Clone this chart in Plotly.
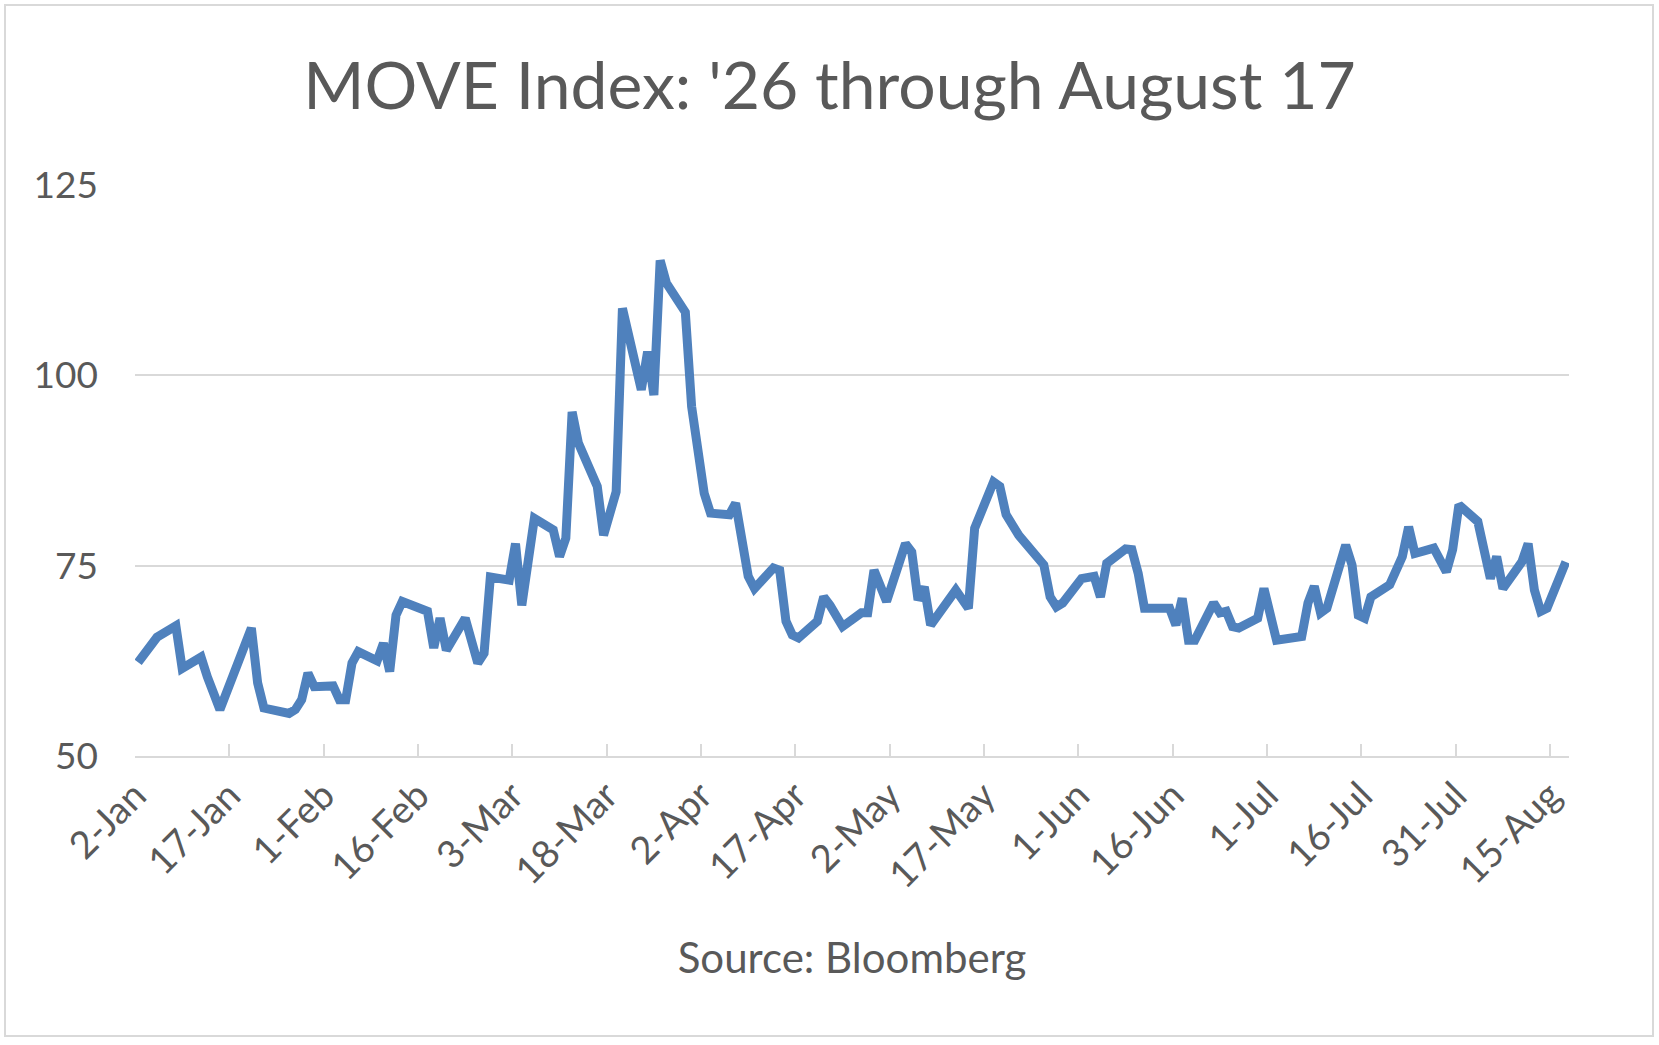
import pandas as pd
import plotly.graph_objects as go

# MOVE index, daily closes (2026)
dates = [
    "2026-01-02", "2026-01-05", "2026-01-06", "2026-01-08", "2026-01-09",
    "2026-01-12", "2026-01-13", "2026-01-15", "2026-01-20", "2026-01-21",
    "2026-01-22", "2026-01-26", "2026-01-27", "2026-01-28", "2026-01-29",
    "2026-01-30", "2026-02-02", "2026-02-03", "2026-02-04", "2026-02-05",
    "2026-02-06", "2026-02-09", "2026-02-10", "2026-02-11", "2026-02-12",
    "2026-02-13", "2026-02-17", "2026-02-18", "2026-02-19", "2026-02-20",
    "2026-02-23", "2026-02-25", "2026-02-26", "2026-02-27", "2026-03-02",
    "2026-03-03", "2026-03-04", "2026-03-06", "2026-03-09", "2026-03-10",
    "2026-03-11", "2026-03-12", "2026-03-13", "2026-03-16", "2026-03-17",
    "2026-03-18", "2026-03-19", "2026-03-20", "2026-03-23", "2026-03-24",
    "2026-03-25", "2026-03-26", "2026-03-27", "2026-03-30", "2026-03-31",
    "2026-04-02", "2026-04-03", "2026-04-06", "2026-04-07", "2026-04-09",
    "2026-04-10", "2026-04-13", "2026-04-14", "2026-04-15", "2026-04-16",
    "2026-04-17", "2026-04-20", "2026-04-21", "2026-04-22", "2026-04-24",
    "2026-04-27", "2026-04-28", "2026-04-29", "2026-05-01", "2026-05-04",
    "2026-05-05", "2026-05-06", "2026-05-07", "2026-05-08", "2026-05-12",
    "2026-05-14", "2026-05-15", "2026-05-18", "2026-05-19", "2026-05-20",
    "2026-05-22", "2026-05-26", "2026-05-27", "2026-05-28", "2026-05-29",
    "2026-06-01", "2026-06-03", "2026-06-04", "2026-06-05", "2026-06-08",
    "2026-06-09", "2026-06-10", "2026-06-11", "2026-06-15", "2026-06-16",
    "2026-06-17", "2026-06-18", "2026-06-19", "2026-06-22", "2026-06-23",
    "2026-06-24", "2026-06-25", "2026-06-26", "2026-06-29", "2026-06-30",
    "2026-07-02", "2026-07-06", "2026-07-07", "2026-07-08", "2026-07-09",
    "2026-07-10", "2026-07-13", "2026-07-14", "2026-07-15", "2026-07-16",
    "2026-07-17", "2026-07-20", "2026-07-22", "2026-07-23", "2026-07-24",
    "2026-07-27", "2026-07-29", "2026-07-30", "2026-07-31", "2026-08-03",
    "2026-08-04", "2026-08-05", "2026-08-06", "2026-08-07", "2026-08-10",
    "2026-08-11", "2026-08-12", "2026-08-13", "2026-08-14", "2026-08-17",
]
move = [
    62.3, 65.6, 66.1, 67.1, 61.5,
    63.0, 60.4, 56.1, 66.8, 59.6,
    56.3, 55.6, 56.1, 57.4, 60.9,
    59.1, 59.2, 57.4, 57.4, 62.2,
    63.7, 62.5, 64.8, 61.1, 68.5,
    70.3, 69.0, 64.2, 68.1, 63.9,
    68.1, 62.2, 63.5, 73.5, 73.1,
    77.9, 69.8, 81.2, 79.7, 76.2,
    78.6, 95.2, 91.1, 85.4, 79.0,
    81.9, 84.7, 108.8, 98.1, 103.1,
    97.4, 115.1, 112.1, 108.3, 95.9,
    84.5, 81.9, 81.7, 83.2, 73.6,
    72.0, 74.7, 74.4, 67.7, 65.9,
    65.5, 67.7, 70.9, 69.8, 67.0,
    68.8, 68.8, 74.4, 70.3, 77.9,
    76.8, 70.5, 72.2, 67.2, 71.8,
    69.4, 79.9, 86.0, 85.4, 81.7,
    79.0, 75.1, 70.9, 69.6, 70.1,
    73.3, 73.6, 70.9, 75.3, 77.2,
    77.1, 74.0, 69.4, 69.4, 67.2,
    70.7, 65.2, 65.2, 70.1, 68.8,
    69.0, 67.0, 66.8, 68.1, 72.0,
    65.2, 65.7, 70.1, 72.3, 68.8,
    69.4, 77.7, 75.1, 68.5, 68.1,
    70.9, 72.5, 76.2, 80.1, 76.6,
    77.3, 74.2, 77.1, 83.0, 80.8,
    77.5, 73.3, 76.2, 72.0, 75.5,
    77.9, 71.8, 69.0, 69.4, 75.5,
]

y_ticks = [50, 75, 100, 125]
x_start, x_end = "2026-01-02", "2026-08-18"

W, H = 1659, 1045
L, R, T, B = 135, 90, 185, 289
pw, ph = W - L - R, H - T - B

grey = "#595959"
grid = "#D9D9D9"
font = "Lato"

# excel puts each day's point in the middle of its day slot
x = pd.to_datetime(dates) + pd.Timedelta(hours=12)

fig = go.Figure()
fig.add_trace(go.Scatter(
    x=x, y=move, mode="lines",
    line=dict(color="#4F81BD", width=9),
    showlegend=False,
))

fig.update_layout(
    width=W, height=H,
    margin=dict(l=L, r=R, t=T, b=B, pad=0),
    paper_bgcolor="white", plot_bgcolor="white",
    title=dict(
        text="MOVE Index: '26 through August 17",
        x=0.5, xref="container", xanchor="center",
        y=1 - 86 / H, yref="container", yanchor="middle",
        font=dict(family=font, size=66, color=grey),
    ),
    xaxis=dict(
        range=[x_start, x_end],
        tick0=x_start, dtick=15 * 86400000,
        tickformat="%-d-%b", tickangle=-45,
        ticks="inside", ticklen=12, tickwidth=2, tickcolor=grid,
        showline=True, linecolor=grid, linewidth=2,
        showgrid=False, zeroline=False,
        tickfont=dict(family=font, size=38, color=grey),
        title=dict(text="Source: Bloomberg", standoff=48,
                   font=dict(family=font, size=42, color=grey)),
    ),
    yaxis=dict(
        range=[50, 125], tickvals=y_ticks,
        showgrid=True, gridcolor=grid, gridwidth=2,
        zeroline=False, showline=False, ticks="",
        ticklabelstandoff=36,
        tickfont=dict(family=font, size=37, color=grey),
    ),
)

# light grey chart border like the excel chart area
fig.add_shape(
    type="rect", xref="paper", yref="paper",
    x0=(5 - L) / pw, x1=(W - 6 - L) / pw,
    y0=(H - B - (H - 9)) / ph, y1=(H - B - 5) / ph,
    line=dict(color=grid, width=2),
)

fig.write_html(
    "out.html",
    config={"displayModeBar": False},
    post_script="document.body.style.margin='0';document.body.style.overflow='hidden';",
)
